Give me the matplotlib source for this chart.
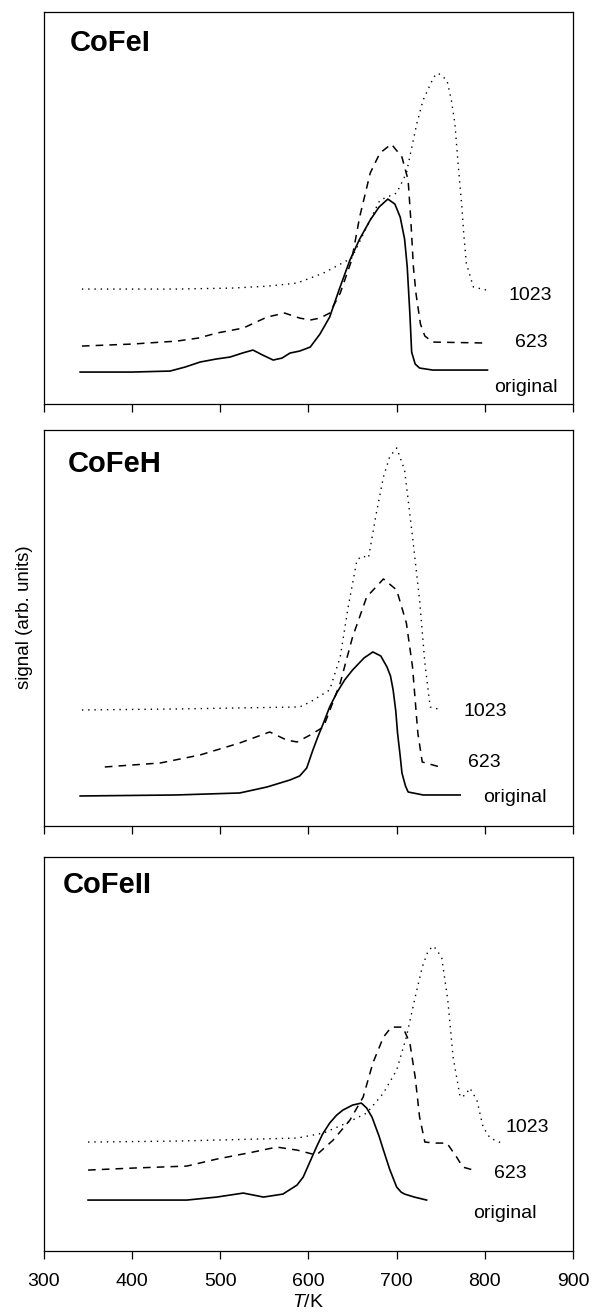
import numpy as np
import matplotlib.pyplot as plt

plt.rcParams['font.family'] = 'Liberation Sans'
plt.rcParams['mathtext.fontset'] = 'custom'
plt.rcParams['mathtext.it'] = 'Liberation Sans:italic'
plt.rcParams['mathtext.rm'] = 'Liberation Sans'

# ------------------------------------------
# DATA (arbitrary signal units)
# ------------------------------------------
# CoFeI
t1_orig = [341, 400, 443, 460, 477, 495, 511, 525, 537, 548, 560, 570, 579, 590, 602, 613, 624,
           635, 647, 658, 670, 680, 690, 698, 704, 709, 712, 715, 717, 721, 726, 741, 803]
s1_orig = [32, 32, 33, 37, 42, 45, 47, 51, 54, 49, 44, 46, 51, 53, 57, 70, 87,
           115, 144, 165, 184, 197, 205, 200, 187, 165, 137, 90, 52, 40, 36, 34, 34]
t1_623 = [343, 400, 451, 475, 496, 526, 553, 573, 590, 602, 613, 624, 636, 649, 658, 670, 681,
          694, 706, 713, 716, 719, 722, 727, 732, 741, 803]
s1_623 = [58, 60, 63, 66, 71, 76, 87, 91, 86, 84, 86, 91, 111, 144, 187, 231, 251,
          260, 247, 224, 185, 137, 110, 80, 68, 62, 61]
t1_1023 = [343, 450, 514, 555, 587, 617, 649, 666, 681, 700, 711, 723, 730, 742, 747, 757,
           762, 766, 770, 774, 776, 779, 787, 802]
s1_1023 = [115, 115, 116, 118, 121, 131, 146, 177, 204, 211, 231, 281, 304, 327, 331, 324,
           304, 281, 237, 197, 171, 141, 117, 114]

# CoFeH
t2_orig = [341, 450, 522, 553, 579, 590, 598, 605, 611, 617, 624, 632, 641, 650, 663, 673,
           682, 689, 693, 696, 699, 701, 704, 706, 710, 713, 730, 772]
s2_orig = [30, 31, 33, 39, 46, 50, 58, 76, 90, 103, 119, 133, 146, 156, 168, 174,
           170, 159, 150, 136, 115, 93, 70, 53, 40, 34, 31, 31]
t2_623 = [369, 432, 477, 522, 556, 575, 587, 602, 617, 636, 650, 666, 685, 700, 711, 718,
          724, 729, 749]
s2_623 = [59, 63, 71, 83, 94, 86, 84, 91, 99, 143, 189, 229, 247, 236, 203, 159,
          93, 64, 59]
t2_1023 = [343, 450, 590, 602, 624, 636, 645, 655, 661, 668, 677, 685, 692, 700, 709, 718,
           726, 732, 738, 747]
s2_1023 = [116, 117, 119, 124, 136, 169, 219, 266, 270, 268, 313, 349, 369, 378, 356, 289,
           226, 163, 119, 117]

# CoFeII
t3_orig = [350, 462, 496, 526, 549, 571, 587, 594, 602, 609, 616, 624, 632, 639, 650, 660,
           666, 672, 680, 685, 692, 700, 705, 709, 720, 734]
s3_orig = [51, 51, 54, 58, 54, 57, 66, 74, 90, 104, 117, 128, 136, 141, 146, 148,
           143, 134, 115, 101, 82, 64, 59, 57, 54, 51]
t3_623 = [350, 401, 462, 496, 537, 564, 587, 609, 628, 647, 662, 673, 685, 694, 707, 715,
          721, 726, 732, 745, 757, 768, 775, 787]
s3_623 = [81, 83, 85, 92, 99, 104, 101, 96, 111, 131, 154, 188, 214, 224, 224, 208,
          174, 134, 109, 108, 108, 94, 84, 81]
t3_1023 = [350, 450, 587, 617, 643, 666, 685, 700, 711, 721, 729, 736, 742, 751, 758, 764,
           772, 778, 783, 791, 798, 806, 819]
s3_1023 = [109, 110, 113, 118, 128, 138, 158, 181, 214, 254, 284, 301, 305, 294, 251, 194,
           154, 156, 163, 151, 124, 113, 108]

sample_names = ['CoFeI', 'CoFeH', 'CoFeII']
curve_labels = ['1023', '623', 'original']
x_ticks = [300, 400, 500, 600, 700, 800, 900]

# label positions (T, signal) for each panel: 1023, 623, original
label_pos = [
    [(851, 109), (853, 62), (846, 17)],
    [(800, 114), (799, 63), (834, 28)],
    [(848, 124), (829, 78), (823, 38)],
]

panels = [
    (t1_orig, s1_orig, t1_623, s1_623, t1_1023, s1_1023),
    (t2_orig, s2_orig, t2_623, s2_623, t2_1023, s2_1023),
    (t3_orig, s3_orig, t3_623, s3_623, t3_1023, s3_1023),
]

# axes rectangles in figure fraction + y range (matches panel height)
rects = [
    [0.0743, 0.6925, 0.8936, 0.2983],
    [0.0743, 0.3714, 0.8936, 0.3014],
    [0.0743, 0.0479, 0.8936, 0.2998],
]
ymax = [392, 396, 394]
title_pos = [(0.049, 0.921), (0.045, 0.914), (0.036, 0.929)]

fig = plt.figure(figsize=(5.92, 13.14), dpi=100)

for i, (to, so, t6, s6, t10, s10) in enumerate(panels):
    ax = fig.add_axes(rects[i])
    ax.plot(t10, s10, color='black', lw=1.0, linestyle=(0, (1, 3.5)))
    ax.plot(t6, s6, color='black', lw=1.1, linestyle=(0, (5, 4)))
    ax.plot(to, so, color='black', lw=1.2)

    for lab, (lx, ly) in zip(curve_labels, label_pos[i]):
        ax.text(lx, ly, lab, ha='center', va='center', fontsize=14)

    ax.text(title_pos[i][0], title_pos[i][1], sample_names[i], transform=ax.transAxes,
            ha='left', va='center', fontsize=21, fontweight='bold')

    ax.set_xlim(300, 900)
    ax.set_ylim(0, ymax[i])
    ax.set_xticks(x_ticks)
    ax.set_yticks([])
    ax.tick_params(axis='x', direction='out', length=6, width=0.9, labelsize=14, pad=10)
    for sp in ax.spines.values():
        sp.set_linewidth(0.9)
    if i < 2:
        ax.set_xticklabels([])
    else:
        ax.set_xlabel(r'$T$/K', fontsize=14, labelpad=3)

fig.text(0.042, 0.530, 'signal (arb. units)', rotation=90, ha='center', va='center',
         fontsize=13.5)

fig.savefig('out.png', dpi=100)
